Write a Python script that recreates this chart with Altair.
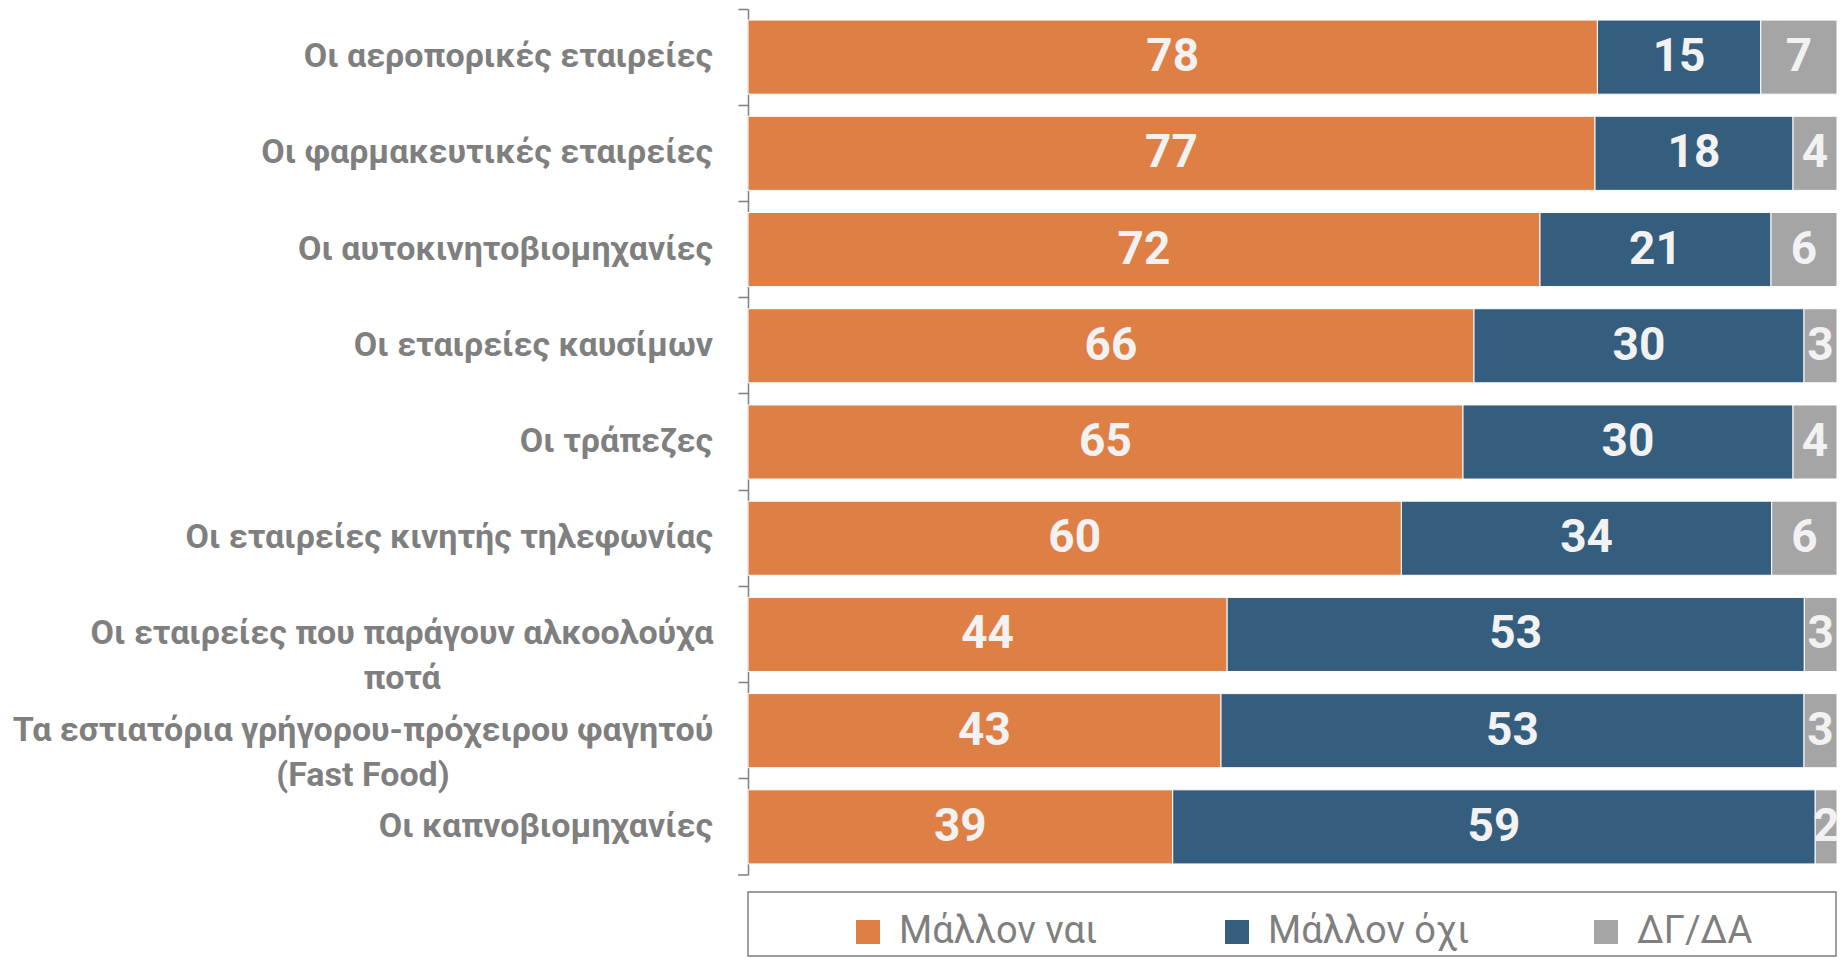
import altair as alt
import pandas as pd

categories = [
    "Οι αεροπορικές εταιρείες",
    "Οι φαρμακευτικές εταιρείες",
    "Οι αυτοκινητοβιομηχανίες",
    "Οι εταιρείες καυσίμων",
    "Οι τράπεζες",
    "Οι εταιρείες κινητής τηλεφωνίας",
    "Οι εταιρείες που παράγουν αλκοολούχα\nποτά",
    "Τα εστιατόρια γρήγορου-πρόχειρου φαγητού\n(Fast Food)",
    "Οι καπνοβιομηχανίες",
]
series = ["Μάλλον ναι", "Μάλλον όχι", "ΔΓ/ΔΑ"]
yes_vals = [78, 77, 72, 66, 65, 60, 44, 43, 39]
no_vals = [15, 18, 21, 30, 30, 34, 53, 53, 59]
dk_vals = [7, 4, 6, 3, 4, 6, 3, 3, 2]
colors = ["#DE7F46", "#355D7E", "#A5A5A5"]

# style
FONT = "Roboto"
LABEL_GREY = "#7F7F7F"
W, H = 1089, 866
LABEL_SIZE = 34
WRAP_CENTER = {categories[6]: -346, categories[7]: -385}

rows = []
for i, c in enumerate(categories):
    for j, (s, vals) in enumerate(zip(series, [yes_vals, no_vals, dk_vals])):
        rows.append({"cat": c, "series": s, "value": vals[i], "order": j})
df = pd.DataFrame(rows)
cat_df = pd.DataFrame({"cat": categories})

yenc = alt.Y("cat:N", sort=categories, title=None,
             scale=alt.Scale(domain=categories, paddingInner=0, paddingOuter=0))

base = alt.Chart(df).transform_stack(
    stack="value", groupby=["cat"], as_=["v0", "v1"], offset="normalize",
    sort=[alt.SortField("order")]
).transform_calculate(mid="(datum.v0 + datum.v1) / 2")

xscale = alt.Scale(domain=[0, 1], nice=False, zero=True)

bars = base.mark_bar(height={"band": 0.77}, stroke="#FFFFFF", strokeWidth=1).encode(
    y=yenc,
    x=alt.X("v0:Q", scale=xscale, axis=None),
    x2="v1:Q",
    color=alt.Color("series:N", sort=series,
                    scale=alt.Scale(domain=series, range=colors),
                    legend=alt.Legend(orient="none", legendX=101, legendY=904,
                                      direction="horizontal", columns=3, title=None,
                                      symbolType="square", symbolSize=576,
                                      symbolStrokeWidth=0, labelFont=FONT,
                                      labelFontSize=38, labelColor=LABEL_GREY,
                                      labelLimit=500,
                                      gridAlign="all", columnPadding=117,
                                      labelOffset=12, padding=0)),
)

values = base.mark_text(font=FONT, fontSize=46, fontWeight="bold",
                        color="#F2F2F2", baseline="middle", align="center").encode(
    y=yenc,
    x=alt.X("mid:Q", scale=xscale, axis=None),
    text="value:Q",
)

single = alt.Chart(cat_df).transform_filter(
    "indexof(datum.cat, '\\n') < 0"
).mark_text(font=FONT, fontSize=LABEL_SIZE, fontWeight="bold", color=LABEL_GREY,
            align="right", baseline="middle").encode(
    y=yenc, x=alt.value(-35), text="cat:N")

wrapped = []
for c, cx in WRAP_CENTER.items():
    wrapped.append(
        alt.Chart(pd.DataFrame({"cat": [c]})).mark_text(
            font=FONT, fontSize=LABEL_SIZE, fontWeight="bold", color=LABEL_GREY,
            align="center", baseline="middle", lineBreak="\n", lineHeight=45
        ).encode(y=yenc, x=alt.value(cx), text="cat:N")
    )

bottom_tick = alt.Chart(pd.DataFrame({"a": [0]})).mark_rule(
    color=LABEL_GREY, strokeWidth=1.5).encode(
    x=alt.value(-10), x2=alt.value(0), y=alt.value(H))

frame = alt.Chart(pd.DataFrame({"a": [0]})).mark_rect(
    fill="transparent", stroke=LABEL_GREY, strokeWidth=1.5).encode(
    x=alt.value(0), x2=alt.value(1088), y=alt.value(883), y2=alt.value(947))

chart = alt.layer(bars, values, single, *wrapped, bottom_tick, frame).properties(
    width=W, height=H,
    autosize=alt.AutoSizeParams(type="none"),
    padding={"left": 740, "top": 1, "right": 0, "bottom": 82},
).configure_view(stroke=None).configure_axisY(
    labels=False, domainColor=LABEL_GREY, domainWidth=1.5, tickColor=LABEL_GREY,
    tickWidth=1.5, tickSize=10, bandPosition=0, grid=False, title=None
)

chart.save("out.html", embed_options={"renderer": "svg", "actions": False})
